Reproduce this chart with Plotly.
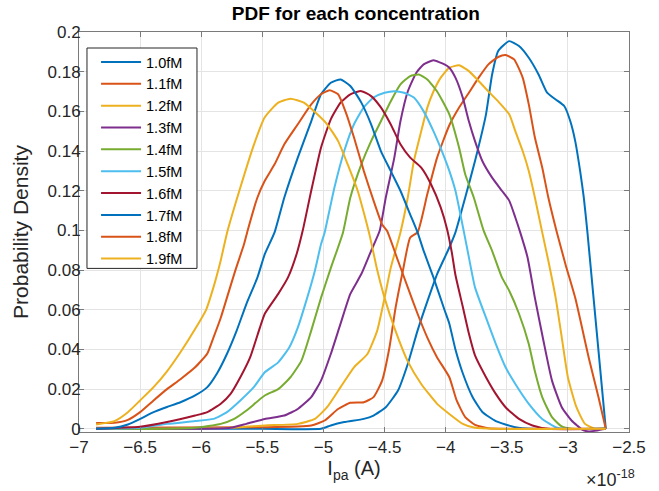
import plotly.graph_objects as go

# current values in units of 1e-18 A, density
x_10 = [-6.86, -6.0, -5.5, -5.02, -4.94, -4.83, -4.67, -4.59, -4.49, -4.39, -4.31, -4.23, -4.14, -4.07,
        -3.97, -3.92, -3.84, -3.76, -3.67, -3.62, -3.57, -3.48, -3.40, -3.32, -3.24, -3.17, -3.10,
        -3.03, -2.98, -2.94, -2.90, -2.87, -2.84, -2.69]
y_10 = [0, 0, 0, 0, 0.0017, 0.0034, 0.005, 0.0067, 0.0109, 0.0193, 0.0327, 0.0495, 0.066, 0.078,
        0.0914, 0.099, 0.1166, 0.135, 0.1585, 0.1786, 0.1904, 0.1954, 0.1929, 0.187, 0.1786, 0.1694, 0.166,
        0.1627, 0.155, 0.145, 0.130, 0.1166, 0.099, 0]

x_11 = [-6.86, -5.48, -5.10, -4.99, -4.88, -4.78, -4.67, -4.59, -4.52, -4.46, -4.41, -4.35, -4.29, -4.23,
        -4.15, -4.07, -3.97, -3.89, -3.81, -3.73, -3.65, -3.57, -3.51, -3.44, -3.37, -3.32, -3.27, -3.21,
        -3.16, -3.09, -3.02, -2.94, -2.83, -2.75, -2.69]
y_11 = [0.0005, 0.0008, 0.0017, 0.0042, 0.010, 0.0131, 0.0134, 0.016, 0.0243, 0.041, 0.061, 0.0797, 0.0964, 0.099,
        0.1183, 0.1367, 0.153, 0.1619, 0.1694, 0.177, 0.1837, 0.1874, 0.1884, 0.1862, 0.177, 0.1635, 0.1468, 0.1317,
        0.1166, 0.099, 0.083, 0.066, 0.036, 0.016, 0]

x_12 = [-6.86, -5.8, -5.48, -5.21, -5.07, -4.97, -4.86, -4.75, -4.64, -4.56, -4.50, -4.45, -4.37, -4.31, -4.26,
        -4.20, -4.15, -4.10, -4.04, -3.97, -3.89, -3.81, -3.73, -3.65, -3.57, -3.48, -3.43, -3.37, -3.32, -3.27,
        -3.21, -3.16, -3.10, -3.05, -3.00, -2.93, -2.86, -2.78, -2.69]
y_12 = [0, 0.0005, 0.0017, 0.0025, 0.005, 0.0109, 0.021, 0.031, 0.0377, 0.0495, 0.066, 0.081, 0.099, 0.1166, 0.135,
        0.150, 0.1619, 0.170, 0.177, 0.182, 0.1832, 0.1803, 0.1753, 0.170, 0.165, 0.1585, 0.150, 0.140, 0.130, 0.1166,
        0.099, 0.0847, 0.066, 0.046, 0.026, 0.0109, 0.0025, 0, 0]

x_13 = [-6.86, -6.05, -5.76, -5.63, -5.48, -5.32, -5.21, -5.10, -5.02, -4.94, -4.86, -4.78, -4.69, -4.61, -4.54,
        -4.49, -4.42, -4.37, -4.31, -4.24, -4.18, -4.10, -4.01, -3.97, -3.92, -3.86, -3.81, -3.76, -3.70, -3.62,
        -3.54, -3.48, -3.43, -3.39, -3.33, -3.27, -3.20, -3.13, -3.05, -2.97, -2.88, -2.83, -2.76, -2.69]
y_13 = [0, 0, 0.0005, 0.0025, 0.005, 0.0067, 0.010, 0.016, 0.0243, 0.0377, 0.053, 0.068, 0.078, 0.0897, 0.0998,
        0.1166, 0.1367, 0.155, 0.170, 0.1795, 0.1837, 0.1857, 0.1837, 0.182, 0.177, 0.1669, 0.155, 0.145, 0.135, 0.1266,
        0.12, 0.115, 0.1065, 0.099, 0.0864, 0.066, 0.0444, 0.0243, 0.0109, 0.0042, -0.0005, -0.0013, -0.0008, 0]

x_14 = [-6.86, -6.28, -6.05, -5.84, -5.73, -5.63, -5.48, -5.37, -5.27, -5.18, -5.10, -5.02, -4.94, -4.84, -4.78,
        -4.69, -4.61, -4.53, -4.45, -4.37, -4.29, -4.22, -4.15, -4.07, -3.97, -3.89, -3.84, -3.77, -3.69, -3.62,
        -3.54, -3.48, -3.40, -3.32, -3.27, -3.21, -3.13, -3.05, -2.97, -2.69]
y_14 = [0, 0, 0.0005, 0.0025, 0.005, 0.0092, 0.0168, 0.020, 0.026, 0.0344, 0.0495, 0.066, 0.081, 0.099, 0.1166,
        0.1333, 0.145, 0.155, 0.165, 0.1736, 0.1778, 0.1786, 0.1761, 0.170, 0.1585, 0.1417, 0.1283, 0.1166, 0.100, 0.0897,
        0.0763, 0.0696, 0.058, 0.0428, 0.029, 0.016, 0.0059, 0.0012, 0, 0]

x_15 = [-6.86, -6.50, -6.28, -6.05, -5.90, -5.79, -5.68, -5.57, -5.48, -5.37, -5.28, -5.21, -5.14, -5.07, -5.02,
        -4.99, -4.91, -4.83, -4.75, -4.67, -4.59, -4.50, -4.42, -4.34, -4.26, -4.18, -4.10, -4.01, -3.97, -3.92,
        -3.85, -3.81, -3.76, -3.67, -3.59, -3.51, -3.43, -3.32, -3.21, -3.10, -3.03, -2.69]
y_15 = [0, 0.0005, 0.0025, 0.0039, 0.005, 0.0084, 0.0143, 0.021, 0.0285, 0.0335, 0.041, 0.051, 0.0646, 0.0797, 0.093,
        0.099, 0.1216, 0.140, 0.1535, 0.162, 0.167, 0.1694, 0.1702, 0.1694, 0.167, 0.160, 0.150, 0.1367, 0.130, 0.12,
        0.099, 0.0864, 0.0713, 0.056, 0.0428, 0.031, 0.0226, 0.0126, 0.005, 0.0008, 0, 0]

x_16 = [-6.86, -6.50, -6.28, -6.05, -5.95, -5.84, -5.76, -5.68, -5.60, -5.52, -5.48, -5.37, -5.29, -5.22, -5.17,
        -5.10, -5.02, -4.94, -4.86, -4.78, -4.69, -4.61, -4.53, -4.45, -4.37, -4.29, -4.20, -4.12, -4.04, -3.99,
        -3.95, -3.92, -3.86, -3.81, -3.76, -3.67, -3.59, -3.51, -3.40, -3.29, -3.16, -2.69]
y_16 = [0, 0.001, 0.0034, 0.0067, 0.0084, 0.0126, 0.0176, 0.026, 0.036, 0.051, 0.058, 0.068, 0.0763, 0.088, 0.0998,
        0.12, 0.1417, 0.156, 0.1644, 0.1686, 0.1702, 0.1677, 0.162, 0.1535, 0.1434, 0.1367, 0.1317, 0.1233, 0.1115, 0.101,
        0.089, 0.0775, 0.0615, 0.048, 0.037, 0.026, 0.0176, 0.0109, 0.005, 0.0017, 0, 0]

x_17 = [-6.86, -6.71, -6.60, -6.50, -6.39, -6.28, -6.17, -6.05, -5.95, -5.87, -5.79, -5.71, -5.63, -5.54, -5.48,
        -5.40, -5.32, -5.21, -5.10, -5.02, -4.94, -4.86, -4.78, -4.69, -4.61, -4.53, -4.45, -4.37, -4.29, -4.23,
        -4.18, -4.10, -4.01, -3.97, -3.92, -3.86, -3.78, -3.70, -3.59, -3.43, -3.30, -2.69]
y_17 = [0, 0.0005, 0.0022, 0.005, 0.0084, 0.011, 0.0134, 0.0168, 0.021, 0.028, 0.0377, 0.0495, 0.063, 0.0763, 0.088,
        0.099, 0.1166, 0.1367, 0.155, 0.1686, 0.1744, 0.1761, 0.1728, 0.1644, 0.1535, 0.140, 0.130, 0.12, 0.108, 0.099,
        0.0897, 0.0763, 0.060, 0.053, 0.040, 0.028, 0.016, 0.0085, 0.0039, 0.0008, 0, 0]

x_18 = [-6.86, -6.71, -6.60, -6.50, -6.39, -6.28, -6.17, -6.05, -5.95, -5.90, -5.84, -5.79, -5.72, -5.65, -5.62,
        -5.54, -5.48, -5.40, -5.32, -5.21, -5.10, -5.02, -4.95, -4.88, -4.82, -4.75, -4.67, -4.59, -4.52, -4.48,
        -4.39, -4.31, -4.23, -4.15, -4.07, -3.97, -3.91, -3.84, -3.76, -3.65, -3.50, -2.69]
y_18 = [0.0029, 0.003, 0.0045, 0.0084, 0.0143, 0.020, 0.025, 0.031, 0.038, 0.046, 0.056, 0.066, 0.080, 0.093, 0.100,
        0.1166, 0.125, 0.1333, 0.1434, 0.1535, 0.1635, 0.1686, 0.1706, 0.1686, 0.160, 0.1468, 0.130, 0.115, 0.103, 0.0998,
        0.0847, 0.0713, 0.058, 0.046, 0.036, 0.026, 0.0143, 0.0059, 0.002, 0.0003, 0, 0]

x_19 = [-6.86, -6.71, -6.60, -6.50, -6.39, -6.28, -6.17, -6.05, -5.96, -5.90, -5.84, -5.79, -5.68, -5.57, -5.48,
        -5.37, -5.27, -5.16, -5.05, -4.97, -4.88, -4.80, -4.72, -4.67, -4.62, -4.56, -4.50, -4.42, -4.31, -4.20,
        -4.07, -3.97, -3.86, -3.76, -3.60, -2.69]
y_19 = [0.0022, 0.0039, 0.0084, 0.0143, 0.021, 0.029, 0.0386, 0.0503, 0.060, 0.0713, 0.085, 0.0985, 0.1216, 0.143, 0.157,
        0.1644, 0.1664, 0.1644, 0.1585, 0.1535, 0.145, 0.133, 0.12, 0.109, 0.097, 0.080, 0.066, 0.051, 0.034, 0.0226,
        0.0126, 0.0075, 0.0025, 0.0005, 0, 0]

labels = ["1.0fM", "1.1fM", "1.2fM", "1.3fM", "1.4fM", "1.5fM", "1.6fM", "1.7fM", "1.8fM", "1.9fM"]
xs = [x_10, x_11, x_12, x_13, x_14, x_15, x_16, x_17, x_18, x_19]
ys = [y_10, y_11, y_12, y_13, y_14, y_15, y_16, y_17, y_18, y_19]

# matlab default color order, cycled
colors = ["#0072BD", "#D95319", "#EDB120", "#7E2F8E", "#77AC30",
          "#4DBEEE", "#A2142F", "#0072BD", "#D95319", "#EDB120"]

FONT = "Liberation Sans, Arial, sans-serif"

fig = go.Figure()
for lab, xv, yv, c in zip(labels, xs, ys, colors):
    fig.add_trace(go.Scatter(x=xv, y=yv, name=lab, mode="lines",
                             line=dict(color=c, width=2, shape="spline", smoothing=0.5)))

axis_style = dict(
    showline=True, linecolor="#7a7a7a", linewidth=1, mirror="ticks",
    ticks="inside", ticklen=5, tickcolor="#7a7a7a",
    showgrid=True, gridcolor="#e4e4e4", gridwidth=1, zeroline=False,
    automargin=False,
    tickfont=dict(family=FONT, size=17, color="#262626"),
)

fig.update_layout(
    width=659, height=491,
    margin=dict(l=79, r=30, t=32, b=59),
    paper_bgcolor="white", plot_bgcolor="white",
    title=dict(text="<b>PDF for each concentration</b>", x=0.54, xanchor="center",
               y=0.972, yanchor="middle",
               font=dict(family=FONT, size=19, color="black")),
    xaxis=dict(axis_style, range=[-7, -2.5], dtick=0.5,
               title=dict(text="I<sub>pa</sub> (A)", standoff=2,
                          font=dict(family=FONT, size=20, color="#262626"))),
    yaxis=dict(axis_style, range=[-0.0016, 0.2], tickvals=[0, 0.02, 0.04, 0.06, 0.08, 0.1, 0.12, 0.14, 0.16, 0.18, 0.2],
               ticktext=["0", "0.02", "0.04", "0.06", "0.08", "0.1", "0.12", "0.14", "0.16", "0.18", "0.2"],
               ticklabelstandoff=-6,
               title=dict(text="Probability Density", standoff=13,
                          font=dict(family=FONT, size=21, color="#262626"))),
    legend=dict(x=0.031, y=0.965, xanchor="left", yanchor="top",
                bgcolor="rgba(0,0,0,0)", borderwidth=0,
                font=dict(family=FONT, size=14.5, color="black"),
                itemwidth=40, tracegroupgap=0),
    showlegend=True,
)

# legend frame, drawn as a box so it can be as wide as the original one
fig.add_shape(type="rect", xref="paper", yref="paper", x0=0.0145, x1=0.2145, y0=0.409, y1=0.96,
              line=dict(color="#262626", width=1), fillcolor="white", layer="above")

fig.add_annotation(text="\u00d710<sup>-18</sup>", xref="paper", yref="paper",
                   x=1.015, y=-0.115, xanchor="right", yanchor="middle", showarrow=False,
                   font=dict(family=FONT, size=18, color="#262626"))

# page body has a default 8px margin; drop it so the figure sits at the window corner
fig.write_html("out.html", config={"displayModeBar": False},
               post_script="document.body.style.margin='0';")
